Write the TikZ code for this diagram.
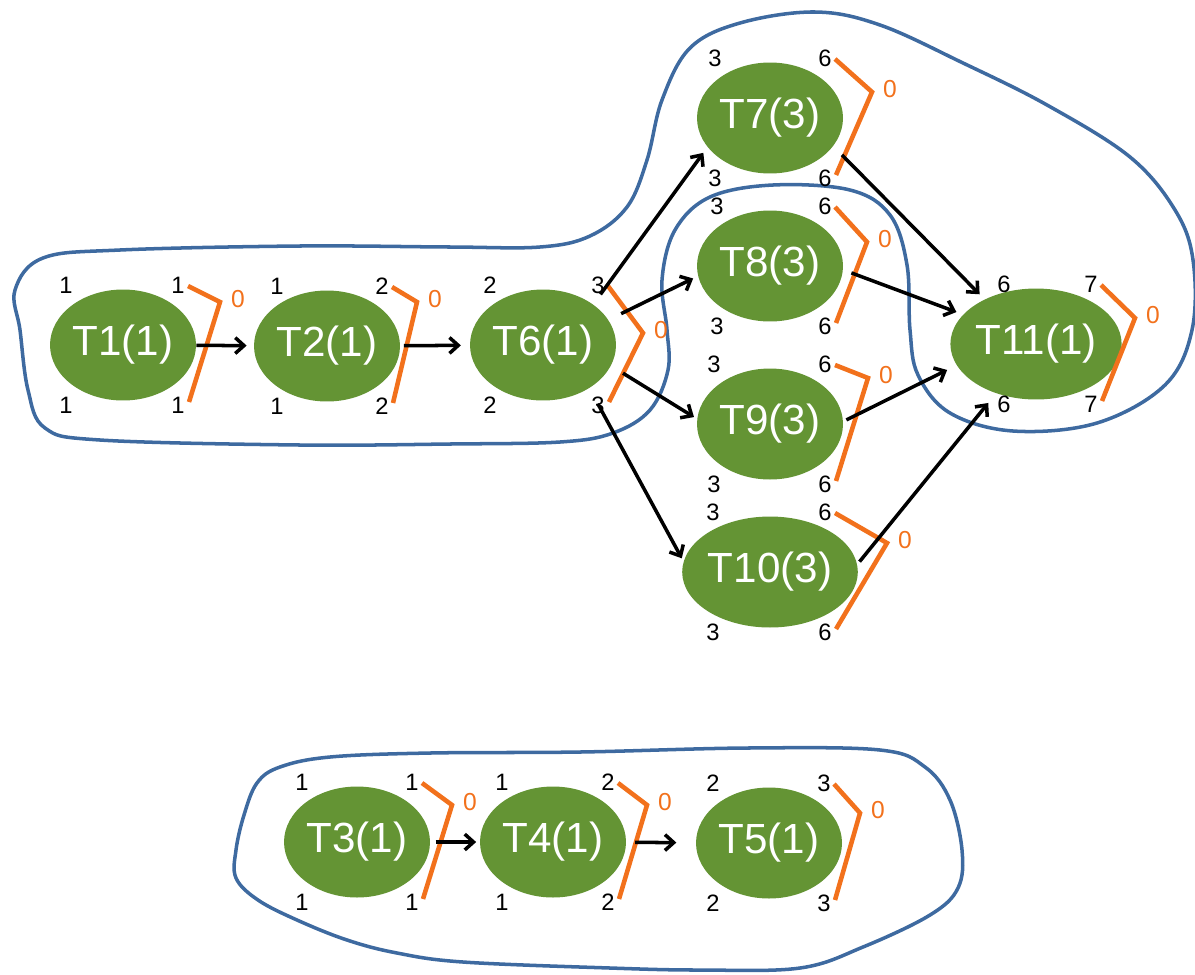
\documentclass[tikz,border=0pt]{standalone}
\usepackage{fontspec}
\setmainfont{Liberation Sans}
\usetikzlibrary{shapes.geometric,arrows.meta}
\definecolor{taskgreen}{RGB}{100,148,52}
\definecolor{groupblue}{RGB}{62,106,160}
\definecolor{slackorange}{RGB}{242,113,28}

\begin{document}
\begin{tikzpicture}[x=0.02cm,y=-0.02cm,>={Straight Barb[length=5pt,width=9pt]},
tasknode/.style={ellipse,fill=taskgreen,text=white,minimum width=2.92cm,minimum height=2.22cm,inner sep=0pt,font=\fontsize{24}{28}\selectfont},
num/.style={inner sep=0pt,font=\fontsize{13.5}{16}\selectfont},
zero/.style={inner sep=0pt,text=slackorange,font=\fontsize{14}{16}\selectfont},
bracket/.style={draw=slackorange,line width=2.6pt},
group/.style={draw=groupblue,line width=2pt},
arr/.style={draw,line width=2pt,->}]
\useasboundingbox (0,0) rectangle (1195,974);
\newcommand\tehtava[9]{
\begin{scope}[shift={(#2,#3)}]
\node[tasknode] (#1) at (0,0) {#4};
\node[num] (#1tl) at (#7,-60) {#5};
\node[num] (#1bl) at (#7,60) {#5};
\node[num] (#1tr) at (55,-60) {#6};
\node[num] (#1br) at (55,60) {#6};
\path[bracket] (65,-59) -- (#8,#9) -- (66,57);
\node[zero] (#1z) at (#8+18,#9-3) {0};
\end{scope}
}
\path[group] plot[smooth cycle,tension=0.6] coordinates {
(43,258) (120,250) (300,246) (450,247) (540,247) (590,236) (627,207) (647,160)
(662,100) (690,48) (740,23) (815,12) (880,25) (963,63) (1047,105) (1130,157)
(1175,210) (1193,260) (1192,330) (1165,385) (1097,423) (1013,431) (950,413)
(918,375) (910,330) (907,265) (890,215) (850,190) (773,185) (710,197) (675,230)
(662,280) (667,330) (668,370) (650,410) (613,433) (560,442) (450,444) (300,445)
(100,440) (45,428) (28,390) (20,330) (15,290)};
\path[group] plot[smooth cycle,tension=0.6] coordinates {
(257,783) (280,767) (330,757) (430,753) (580,752) (747,748) (880,750) (925,767)
(950,800) (962,850) (958,888) (930,915) (863,947) (800,968) (700,970) (610,968)
(463,962) (397,953) (347,940) (297,920) (258,900) (236,878) (236,850) (244,815)};
\tehtava{t1}{123}{345}{T1(1)}{1}{1}{-57}{97}{-43}
\tehtava{t2}{327}{346}{T2(1)}{1}{2}{-50}{90}{-44}
\tehtava{t6}{543}{345}{T6(1)}{2}{3}{-53}{100}{-12}
\tehtava{t7}{770}{118}{T7(3)}{3}{6}{-55}{102}{-26}
\tehtava{t8}{770}{266}{T8(3)}{3}{6}{-53}{97}{-24}
\tehtava{t9}{770}{424}{T9(3)}{3}{6}{-56}{98}{-46}
\tehtava{t10}{770}{572}{T10(3)}{3}{6}{-57}{117}{-29}
\tehtava{t11}{1036}{344}{T11(1)}{6}{7}{-32}{99}{-26}
\tehtava{t3}{357}{842}{T3(1)}{1}{1}{-55}{95}{-37}
\tehtava{t4}{553}{842}{T4(1)}{1}{2}{-51}{94}{-37}
\tehtava{t5}{769}{843}{T5(1)}{2}{3}{-56}{91}{-30}
\path[arr,shorten >=4pt] (t1) -- (t2);
\path[arr,shorten <=2pt,shorten >=5pt] (t2) -- (t6);
\path[arr,shorten <=7pt,shorten >=4pt] (t6.39) -- (t7.205);
\path[arr,shorten <=8pt,shorten >=3pt] (t6.21) -- (t8.188);
\path[arr,shorten <=8pt,shorten >=2pt] (t6.-17) -- (t9.176);
\path[arr,shorten <=10pt,shorten >=2pt] (t6.-43) -- (t10.173);
\path[arr,shorten <=7pt,shorten >=4pt] (t7.-24) -- (t11.139);
\path[arr,shorten <=5pt,shorten >=4pt] (t8.-3) -- (t11.158);
\path[arr,shorten <=2pt,shorten >=6pt] (t9.2) -- (t11.195);
\path[arr,shorten <=2pt,shorten >=7pt] (t10.5) -- (t11.231);
\path[arr,shorten <=3pt,shorten >=2pt] (t3) -- (t4);
\path[arr,shorten <=5pt,shorten >=11pt] (t4) -- (t5);
\end{tikzpicture}
\end{document}
